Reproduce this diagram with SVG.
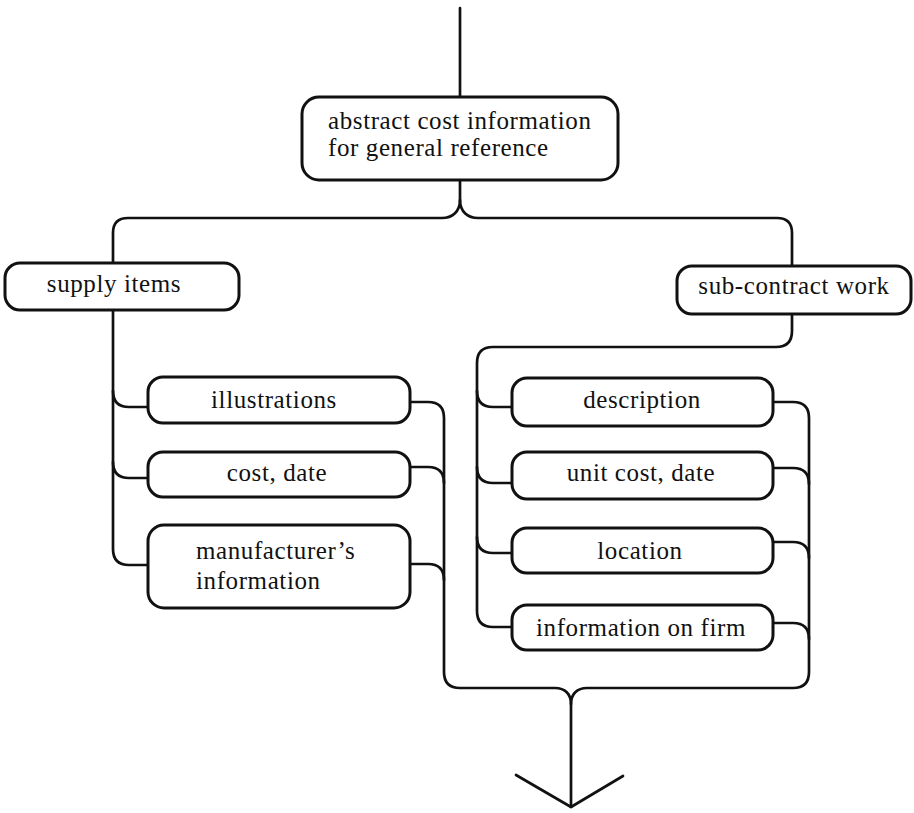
<svg xmlns="http://www.w3.org/2000/svg" width="914" height="813" viewBox="0 0 914 813">
  <style>
    .box { fill: #fff; stroke: #111; stroke-width: 3; }
    .wire { fill: none; stroke: #111; stroke-width: 2.7; stroke-linecap: round; stroke-linejoin: round; }
    text { font-family: "Liberation Serif", "Times New Roman", serif; font-size: 25px; letter-spacing: 0.6px; fill: #111; }
    .c { text-anchor: middle; }
  </style>
  <rect width="914" height="813" fill="#fff"/>

  <g id="connectors">
    <!-- incoming stem -->
    <path class="wire" d="M460,8 V97"/>
    <!-- split under the top box -->
    <path class="wire" d="M460,180 V200 C460,212 452,218 442,218 H128 Q113,218 113,233 V263"/>
    <path class="wire" d="M460,200 C460,212 468,218 478,218 H777 Q792,218 792,233 V266"/>
    <!-- supply items to its children -->
    <path class="wire" d="M113,310 V549 Q113,565 129,565 H148"/>
    <path class="wire" d="M113,391 Q113,407 129,407 H148"/>
    <path class="wire" d="M113,462 Q113,478 129,478 H148"/>
    <!-- supply children merge -->
    <path class="wire" d="M410,402 H428 Q444,402 444,418 V672 Q444,688 460,688 H555 C565,688 571,694 571,704 V807"/>
    <path class="wire" d="M410,467 H428 Q444,467 444,483"/>
    <path class="wire" d="M410,564 H428 Q444,564 444,580"/>
    <!-- sub-contract work to its children -->
    <path class="wire" d="M792,314 V331 Q792,347 776,347 H493 Q477,347 477,363 V611 Q477,627 493,627 H512"/>
    <path class="wire" d="M477,391 Q477,407 493,407 H512"/>
    <path class="wire" d="M477,467 Q477,483 493,483 H512"/>
    <path class="wire" d="M477,537 Q477,553 493,553 H512"/>
    <!-- sub-contract children merge -->
    <path class="wire" d="M571,704 C571,694 577,688 587,688 H793 Q809,688 809,672 V418 Q809,402 793,402 H773"/>
    <path class="wire" d="M773,468 H793 Q809,468 809,484"/>
    <path class="wire" d="M773,542 H793 Q809,542 809,558"/>
    <path class="wire" d="M773,623 H793 Q809,623 809,639"/>
    <!-- outgoing arrowhead -->
    <path class="wire" d="M516,775 L571,807 L623,776" stroke-width="3.2"/>
  </g>

  <g id="abstract-cost">
    <rect class="box" x="302" y="97" width="316" height="83" rx="17"/>
    <text x="328" y="129">abstract cost information</text>
    <text x="328" y="156">for general reference</text>
  </g>

  <g id="supply-items">
    <rect class="box" x="5" y="263" width="234" height="47" rx="15"/>
    <text class="c" x="114" y="292">supply items</text>
  </g>

  <g id="sub-contract-work">
    <rect class="box" x="677" y="266" width="234" height="48" rx="15"/>
    <text class="c" x="794" y="294">sub-contract work</text>
  </g>

  <g id="illustrations">
    <rect class="box" x="148" y="377" width="262" height="46" rx="15"/>
    <text class="c" x="274" y="408">illustrations</text>
  </g>

  <g id="cost-date">
    <rect class="box" x="148" y="452" width="262" height="45" rx="15"/>
    <text class="c" x="277" y="481">cost, date</text>
  </g>

  <g id="manufacturers-information">
    <rect class="box" x="148" y="525" width="262" height="83" rx="16"/>
    <text x="196" y="559">manufacturer’s</text>
    <text x="196" y="589">information</text>
  </g>

  <g id="description">
    <rect class="box" x="512" y="378" width="261" height="48" rx="15"/>
    <text class="c" x="642" y="408">description</text>
  </g>

  <g id="unit-cost-date">
    <rect class="box" x="512" y="452" width="261" height="47" rx="15"/>
    <text class="c" x="641" y="481">unit cost, date</text>
  </g>

  <g id="location">
    <rect class="box" x="512" y="528" width="261" height="45" rx="15"/>
    <text class="c" x="640" y="559">location</text>
  </g>

  <g id="information-on-firm">
    <rect class="box" x="512" y="605" width="261" height="45" rx="15"/>
    <text class="c" x="641" y="636">information on firm</text>
  </g>
</svg>
